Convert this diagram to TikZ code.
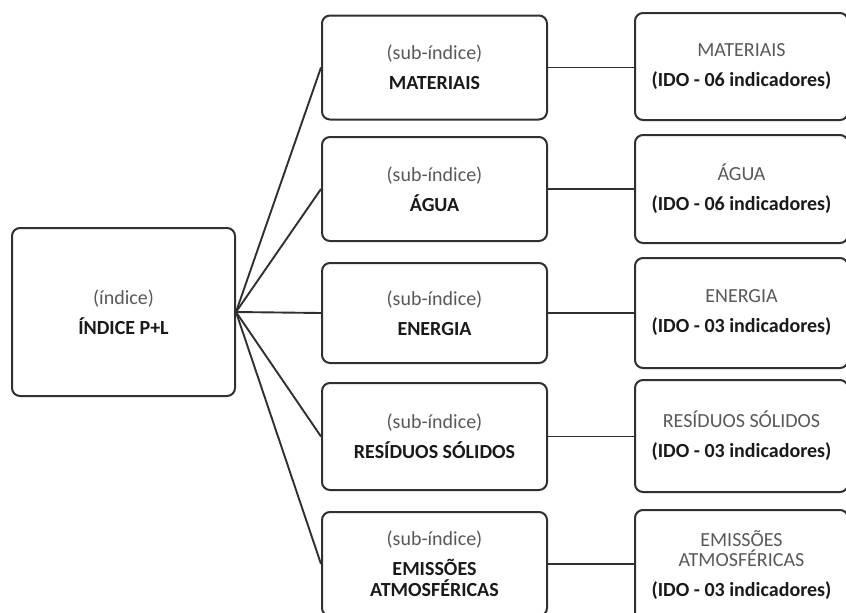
\documentclass[tikz,border=0pt]{standalone}
\usepackage{fontspec}
\setmainfont{Carlito}
\usetikzlibrary{positioning}
\definecolor{boxline}{HTML}{303030}
\definecolor{labelgray}{HTML}{595959}
\definecolor{maintext}{HTML}{1A1A1A}
\tikzset{
  indexbox/.style={draw=boxline, line width=2pt, rounded corners=8pt,
    align=center, fill=white, text=maintext, inner sep=0pt,
    font=\fontsize{20}{30}\selectfont},
  mainbox/.style={indexbox, minimum width=223pt, minimum height=168pt},
  subbox/.style={indexbox, minimum width=225pt, minimum height=104pt},
  idobox/.style={indexbox, minimum width=213pt, minimum height=108pt},
  link/.style={draw=boxline, line width=1.9pt}
}
\newcommand{\graytag}[1]{{\color{labelgray}#1}}

\begin{document}
\begin{tikzpicture}[x=1pt, y=-1pt]
  \clip (0,0) rectangle (846,613);
  \fill[white] (0,0) rectangle (846,613);
  % indice
  \node[mainbox] (indice) at (123.5,312) {\graytag{(índice)}\\{\bfseries ÍNDICE P+L}};
  % sub-indices
  \node[subbox] (sub1) at (434.5,67.5) {\graytag{(sub-índice)}\\{\bfseries MATERIAIS}};
  \node[subbox] (sub2) at (434.5,189) {\graytag{(sub-índice)}\\{\bfseries ÁGUA}};
  \node[subbox, minimum height=100pt] (sub3) at (434.5,313) {\graytag{(sub-índice)}\\{\bfseries ENERGIA}};
  \node[subbox, minimum height=107pt] (sub4) at (434.5,436.5) {\graytag{(sub-índice)}\\{\bfseries RESÍDUOS SÓLIDOS}};
  \node[subbox] (sub5) at (434.5,564) {\graytag{(sub-índice)}\\{\bfseries EMISSÕES}\\[-9pt]{\bfseries ATMOSFÉRICAS}};
  % indicadores
  \node[idobox, minimum height=107pt] (ido1) at (741.5,66.5) {\graytag{MATERIAIS}\\{\bfseries (IDO - 06 indicadores)}};
  \node[idobox] (ido2) at (741.5,189) {\graytag{ÁGUA}\\{\bfseries (IDO - 06 indicadores)}};
  \node[idobox, minimum height=110pt] (ido3) at (741.5,313) {\graytag{ENERGIA}\\{\bfseries (IDO - 03 indicadores)}};
  \node[idobox, minimum height=112pt] (ido4) at (741.5,436) {\graytag{RESÍDUOS SÓLIDOS}\\{\bfseries (IDO - 03 indicadores)}};
  \node[idobox, minimum height=110pt] (ido5) at (741.5,565) {\graytag{EMISSÕES}\\[-10pt]\graytag{ATMOSFÉRICAS}\\{\bfseries (IDO - 03 indicadores)}};
  % ligacoes
  \foreach \i in {1,...,5} {
    \draw[link] (indice.east) -- (sub\i.west);
    \draw[link] (sub\i.east) -- (sub\i.east -| ido\i.west);
  }
\end{tikzpicture}
\end{document}
